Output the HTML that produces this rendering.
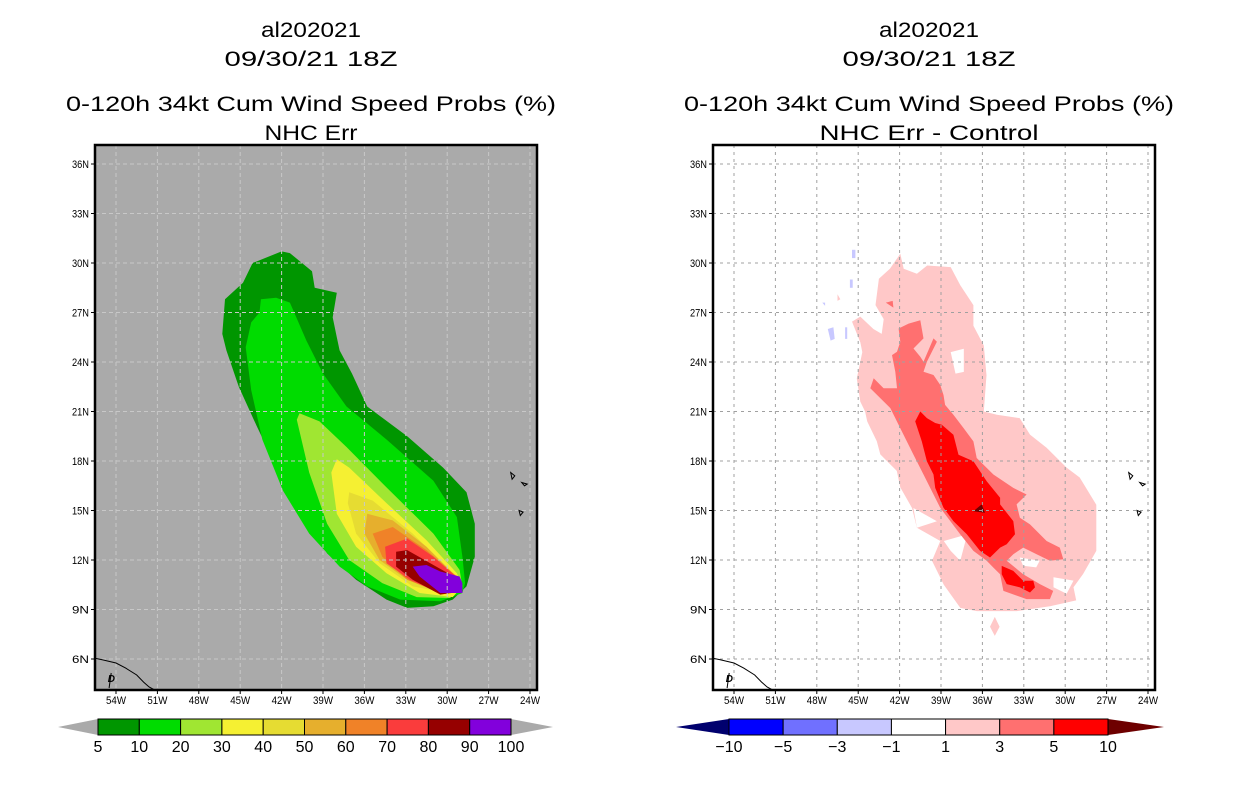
<!DOCTYPE html>
<html><head><meta charset="utf-8"><style>
html,body{margin:0;padding:0;background:#fff;}
svg{display:block;font-family:"Liberation Sans",sans-serif;}
</style></head><body>
<svg id="root" width="1236" height="800" viewBox="0 0 1236 800" xmlns="http://www.w3.org/2000/svg"></svg>
<script>
// ---------- data ----------
const latTicks = [36,33,30,27,24,21,18,15,12,9,6];
const lonTicks = [54,51,48,45,42,39,36,33,30,27,24];
const probLevels = ["5","10","20","30","40","50","60","70","80","90","100"];
const probColors = ["#009600","#00dc00","#a0e632","#f5f032","#e6dc32","#e6af2d","#f08228","#fa3c3c","#960000","#8200dc"];
const diffLevels = ["\u221210","\u22125","\u22123","\u22121","1","3","5","10"];
const diffColors = ["#0000ff","#7070ff","#c8c8ff","#ffffff","#ffc8c8","#ff7070","#ff0000"];
// probability contour polygons [lonW, latN]
const p5 = [[42.0,30.7],[41.4,30.6],[39.8,29.5],[39.6,28.5],[38.0,28.2],[38.3,26.7],[38.0,25.5],[37.8,24.7],[36.9,23.3],[35.8,21.3],[32.9,19.5],[30.3,17.6],[28.6,16.1],[28.0,14.2],[28.0,12.2],[28.6,10.4],[29.6,9.6],[31.0,9.2],[32.9,9.1],[34.4,9.6],[36.6,10.8],[38.7,12.4],[40.5,14.8],[42.2,17.3],[43.8,20.1],[45.1,22.5],[46.0,24.7],[46.3,25.7],[46.1,27.8],[44.8,28.8],[44.1,30.0]];
const p10 = [[43.5,27.8],[42.4,27.9],[41.4,27.6],[40.2,25.3],[39.0,23.3],[37.3,21.3],[34.4,19.3],[31.0,16.8],[29.3,14.6],[28.9,12.2],[28.7,10.6],[28.9,10.0],[30.5,9.5],[33.4,9.6],[35.8,10.4],[37.8,11.6],[40.0,13.6],[41.9,16.2],[43.4,19.3],[44.2,22.3],[44.6,24.9],[44.2,26.4],[43.6,27.0]];
const p20 = [[40.7,20.9],[39.25,20.4],[37.3,18.85],[34.4,16.4],[31.0,13.6],[29.1,11.4],[28.9,10.4],[29.8,9.7],[32.2,9.75],[34.7,10.6],[37.1,12.0],[38.7,14.2],[40.0,17.3],[40.9,20.5]];
const p30 = [[38.0,18.1],[37.1,17.6],[34.4,15.45],[31.5,13.2],[29.3,11.2],[28.9,10.4],[29.6,9.75],[32.0,10.0],[34.4,11.2],[36.6,12.8],[38.0,14.8],[38.4,17.3]];
const p40 = [[37.1,16.1],[35.4,15.6],[32.5,13.6],[29.8,11.4],[28.9,10.4],[30.0,10.0],[32.5,10.4],[34.9,11.8],[36.6,13.6],[37.2,15.45]];
const p50 = [[35.8,14.8],[33.95,14.4],[31.5,12.8],[29.6,11.2],[28.9,10.4],[30.3,10.0],[32.9,10.8],[34.9,12.0],[36.0,13.6]];
const p60 = [[35.4,13.6],[33.95,14.0],[31.5,12.6],[29.3,11.0],[28.9,10.4],[30.5,10.0],[32.9,10.8],[34.7,12.2]];
const p70 = [[34.5,12.8],[32.9,13.3],[31.0,12.2],[29.1,10.8],[28.9,10.2],[30.5,10.0],[32.7,10.8],[34.4,11.8]];
const p80 = [[33.7,12.5],[32.9,12.6],[31.0,11.7],[29.1,10.8],[28.9,10.1],[30.5,9.9],[32.5,10.8],[33.7,11.6]];
const p90 = [[32.5,11.6],[31.5,11.7],[30.5,11.3],[29.1,11.0],[28.9,10.6],[28.9,10.0],[30.5,10.0],[32.0,11.0]];
const probPolys = [p5,p10,p20,p30,p40,p50,p60,p70,p80,p90];
// difference polygons
const d1 = [[41.95,30.56],[41.7,29.65],[40.75,29.35],[40.0,29.85],[38.3,29.75],[37.6,28.65],[36.65,27.45],[36.65,26.2],[35.9,25.0],[35.7,23.2],[35.9,21.0],[34.95,20.8],[33.3,20.6],[32.55,19.6],[31.35,18.8],[29.9,17.6],[28.95,17.0],[27.75,15.35],[27.75,12.55],[28.7,11.15],[29.4,10.35],[29.2,9.55],[31.1,9.2],[33.5,8.9],[36.4,8.9],[37.6,9.1],[38.8,10.5],[39.65,11.95],[39.05,13.15],[40.75,13.95],[41.1,15.15],[41.95,16.4],[42.2,17.4],[43.4,18.4],[43.65,19.2],[44.35,20.4],[44.5,21.0],[44.85,21.6],[45.1,23.0],[44.7,24.6],[44.85,25.2],[45.45,26.45],[44.85,26.75],[43.9,26.0],[43.3,25.7],[43.15,26.6],[43.75,27.45],[43.5,29.05],[42.7,29.65]];
const d1b = [[35.1,8.55],[34.75,7.95],[35.1,7.4],[35.45,7.95]];
const d1c = [[46.5,28.1],[46.3,27.8],[46.5,27.7]];
const holes = [
 [[38.3,24.6],[37.35,24.8],[37.35,23.4],[37.95,23.3]],
 [[38.8,13.15],[37.1,13.55],[37.6,11.95],[38.3,12.55]],
 [[33.3,12.15],[31.85,11.95],[32.1,11.55],[33.05,11.65]],
 [[30.85,10.95],[29.4,10.75],[29.9,9.95],[30.85,10.35]],
 [[41.0,15.15],[39.3,14.35],[40.75,13.95]],
 [[37.6,29.1],[37.4,28.9],[37.6,28.7]]];
const d3 = [[42.07,26.03],[41.35,26.33],[40.5,26.53],[40.27,25.43],[40.99,24.82],[40.5,24.32],[40.27,24.02],[39.54,25.43],[39.3,25.23],[40.02,24.02],[40.27,23.41],[39.54,23.21],[39.06,22.61],[38.82,22.0],[38.7,21.4],[38.1,20.8],[37.37,20.0],[36.65,19.19],[36.41,18.18],[35.2,17.18],[33.76,16.37],[32.8,15.97],[33.52,15.37],[33.28,14.56],[32.55,14.16],[31.35,13.15],[30.39,12.75],[30.14,12.05],[31.11,11.95],[32.07,12.35],[33.04,12.75],[33.76,12.35],[34.24,11.95],[33.04,11.14],[31.83,10.54],[30.87,10.13],[31.11,9.63],[32.8,9.63],[34.48,10.13],[34.72,11.14],[35.2,11.54],[35.69,11.95],[36.65,12.55],[37.61,13.56],[39.06,15.17],[39.78,16.37],[40.27,17.18],[40.99,18.38],[41.95,19.99],[42.67,21.2],[44.12,22.41],[43.88,23.01],[43.16,22.41],[42.19,22.41],[42.31,23.41],[42.55,24.42],[42.19,24.62],[41.95,25.23]];
const d3b = [[43.0,27.6],[42.5,27.7],[42.45,27.3]];
const d5 = [[40.87,20.4],[40.5,21.0],[40.02,20.6],[39.42,20.3],[38.94,20.2],[38.1,19.59],[37.73,18.38],[36.65,17.98],[35.69,16.77],[34.72,15.77],[34.72,15.37],[33.76,14.36],[33.64,13.56],[34.24,12.95],[34.72,12.75],[35.45,12.15],[36.17,12.55],[37.13,13.56],[38.1,14.36],[38.82,15.17],[39.42,16.37],[39.54,17.18],[40.02,17.98],[40.39,19.19]];
const d5b = [[34.6,11.64],[33.76,11.34],[33.04,10.74],[32.31,10.74],[32.19,10.34],[32.55,10.03],[33.28,10.34],[34.24,10.54],[34.6,11.14]];
const d10 = [[36.65,14.96],[36.05,15.37],[35.81,14.86]];
const neg1 = [
 [[45.45,30.8],[45.2,30.8],[45.2,30.3],[45.45,30.3]],
 [[45.6,29.0],[45.4,29.0],[45.4,28.5],[45.6,28.5]],
 [[47.2,26.0],[46.8,26.1],[46.7,25.4],[47.0,25.3]],
 [[45.95,26.1],[45.8,26.1],[45.8,25.4],[45.95,25.4]],
 [[47.6,27.6],[47.4,27.6],[47.4,27.4]]];
const coast = [[55.6,6.06],[55.0,5.95],[54.0,5.76],[53.3,5.45],[52.5,5.03],[52.0,4.6],[51.6,4.3],[51.2,4.12]];
const river = [[54.35,5.15],[54.5,4.24]];
const islands = [[[25.4,17.3],[25.1,17.1],[25.3,16.9]],[[24.6,16.7],[24.2,16.6],[24.4,16.5]],[[24.8,15.0],[24.5,14.9],[24.7,14.7]]];

// ---------- helpers ----------
const NS = "http://www.w3.org/2000/svg";
const root = document.getElementById("root");
function mk(tag, attrs, parent){ const e=document.createElementNS(NS,tag); for(const k in attrs) e.setAttribute(k,attrs[k]); (parent||root).appendChild(e); return e; }
const PY0=145, PY1=690, PW=442;
function yScale(lat){ return 659 - (lat-6)*16.5; }
function xScaleFor(x0){ return lon => x0 + 435 - (lon-24)*13.8; }
function ptsStr(poly, xs){ return poly.map(p => xs(p[0]).toFixed(1)+","+yScale(p[1]).toFixed(1)).join(" "); }
function txt(x,y,s,size,anchor,len,parent){
  const t=mk("text",{x:x,y:y,"font-size":size,"text-anchor":anchor||"middle",fill:"#000"},parent);
  if(len){ t.setAttribute("textLength",len); t.setAttribute("lengthAdjust","spacingAndGlyphs"); }
  t.textContent=s; return t;
}

function panel(x0, bg, gridColor, dash, id, subtitle, subLen){
  const xs = xScaleFor(x0);
  const g = mk("g",{});
  
  
  const cx = x0 + PW/2 - 5;
  let t;
  t=txt(cx,37,"al202021",21,"middle",100,g);
  
  
  t=txt(cx,66,"09/30/21 18Z",21,"middle",173,g);
  
  
  t=txt(cx,111,"0-120h 34kt Cum Wind Speed Probs (%)",21,"middle",490,g);
  
  
  t=txt(cx,140,subtitle,21,"middle",subLen,g);
  
  

  const cp = mk("clipPath",{id:"clip-"+id},g);
  mk("rect",{x:x0,y:PY0,width:PW,height:PY1-PY0},cp);
  const map = mk("g",{"clip-path":"url(#clip-"+id+")"},g);
  
  
  mk("rect",{x:x0,y:PY0,width:PW,height:PY1-PY0,fill:bg},map);
  return {g,map,xs,x0};
}
function gridAndAxes(P, gridColor, dash, id){
  const {g,map,xs,x0}=P;
  latTicks.forEach(lat=>{
    const y=yScale(lat);
    const l=mk("line",{x1:x0,x2:x0+PW,y1:y,y2:y,stroke:gridColor,"stroke-width":1,"stroke-dasharray":dash},map);
    
    
    mk("line",{x1:x0-4,x2:x0,y1:y,y2:y,stroke:"#000","stroke-width":1},g);
    const t=txt(x0-6,y+4,lat+"N",11,"end",17,g);
    
    
  });
  lonTicks.forEach(lon=>{
    const x=xs(lon);
    const l=mk("line",{x1:x,x2:x,y1:PY0,y2:PY1,stroke:gridColor,"stroke-width":1,"stroke-dasharray":dash},map);
    
    
    mk("line",{x1:x,x2:x,y1:PY1,y2:PY1+4,stroke:"#000","stroke-width":1},g);
    const t=txt(x,PY1+14,lon+"W",11,"middle",20,g);
    
    
  });
  const c=mk("polyline",{points:ptsStr(coast,xs),fill:"none",stroke:"#000","stroke-width":1},map);
  
  
  mk("polyline",{points:ptsStr(river,xs),fill:"none",stroke:"#000","stroke-width":1},map);
  mk("text",{x:xs(54.6),y:yScale(4.6),"font-size":10,"font-style":"italic","font-weight":"bold"},map).textContent="D";
  islands.forEach(p=>{ const e=mk("polygon",{points:ptsStr(p,xs),fill:"none",stroke:"#000","stroke-width":1},map);
    
     });
  const b=mk("rect",{x:x0,y:PY0,width:PW,height:PY1-PY0,fill:"none",stroke:"#000","stroke-width":2.5},g);
  
  
}

// ---------- left panel ----------
const L = panel(95,"#aaaaaa","#c8c8c8","4,3","left","NHC Err",93);
probPolys.forEach((poly,i)=>{
  const e=mk("polygon",{points:ptsStr(poly,L.xs),fill:probColors[i]},L.map);
  
  
});
gridAndAxes(L,"#c8c8c8","4,3","left");

// ---------- right panel ----------
const R = panel(713,"#ffffff","#a0a0a0","3,4","right","NHC Err - Control",219);
function fillR(poly,col,name){ const e=mk("polygon",{points:ptsStr(poly,R.xs),fill:col},R.map);
  
   }
fillR(d1,diffColors[4],"diff-contour-1");
fillR(d1b,diffColors[4],"diff-contour-1-islet");
fillR(d1c,diffColors[4],"diff-contour-1-speck");
holes.forEach(h=>fillR(h,"#ffffff","diff-hole"));
fillR(d3,diffColors[5],"diff-contour-3");
fillR(d3b,diffColors[5],"diff-contour-3-speck");
fillR(d5,diffColors[6],"diff-contour-5");
fillR(d5b,diffColors[6],"diff-contour-5-south");
fillR(d10,"#6e0000","diff-contour-10");
neg1.forEach(p=>fillR(p,diffColors[2],"diff-contour-neg1"));
gridAndAxes(R,"#a0a0a0","3,4","right");

// ---------- colorbars ----------
function colorbar(x0,x1,tipL,tipR,colors,labels,triL,triR,id){
  const g=mk("g",{});
  
  
  const y0=719,y1=735,ym=727;
  const w=(x1-x0)/colors.length;
  mk("polygon",{points:`${tipL},${ym} ${x0},${y0} ${x0},${y1}`,fill:triL},g);
  mk("polygon",{points:`${tipR},${ym} ${x1},${y0} ${x1},${y1}`,fill:triR},g);
  colors.forEach((c,i)=>{
    const r=mk("rect",{x:x0+i*w,y:y0,width:w,height:y1-y0,fill:c,stroke:"#000","stroke-width":1},g);
    
    
  });
  labels.forEach((s,i)=>{
    const t=txt(x0+i*w,752,s,16,"middle",null,g);
    
    
  });
}
colorbar(98,511,58,553,probColors,probLevels,"#aaaaaa","#aaaaaa","prob-colorbar");
colorbar(729,1108,676,1164,diffColors,diffLevels,"#00006e","#6e0000","diff-colorbar");
</script>
</body></html>
